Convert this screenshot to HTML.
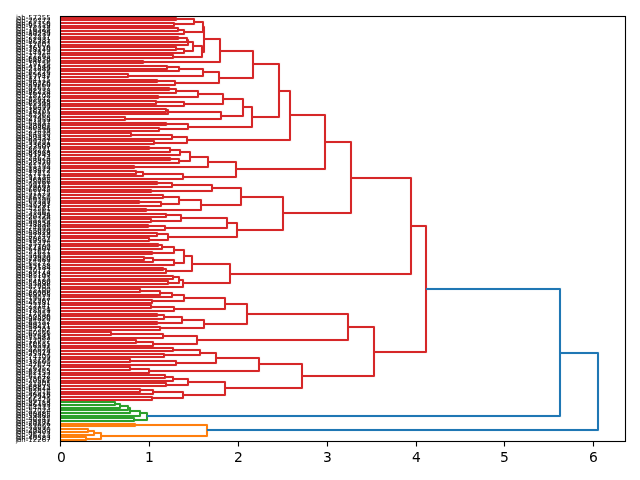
<!DOCTYPE html>
<html lang="en"><head><meta charset="utf-8"><title>Hierarchical clustering dendrogram</title>
<style>html,body{margin:0;padding:0;background:#fff}body{width:640px;height:480px;overflow:hidden}svg{display:block}text{font-family:"DejaVu Sans","Liberation Sans",sans-serif;fill:#000}.yl text{font-size:6.944px;text-anchor:start;}.xl text{font-size:13.889px;text-anchor:middle;}.lk path{fill:none;stroke-width:2;stroke-linejoin:round;stroke-linecap:butt}.lk .bl path{stroke-width:4;stroke-opacity:0.045}.fr path{fill:none;stroke:#000;stroke-width:1}.fr .bl path{stroke-width:3;stroke-opacity:0.055}</style></head><body>
<svg width="640" height="480" viewBox="0 0 640 480">
<rect width="640" height="480" fill="#fff"/>
<defs><clipPath id="ax"><rect x="60.472" y="16.330" width="564.528" height="424.947"/></clipPath></defs>
<g class="lk" clip-path="url(#ax)">
<g stroke="#ff7f0e">
<g class="bl">
<path d="M60 424H135V426H60"/>
<path d="M60 429H88V432H60"/>
<path d="M88 431H94V435H60"/>
<path d="M60 437H86V440H60"/>
<path d="M94 433H101V439H86"/>
<path d="M135 425H207V436H101"/>
</g>
<path d="M60 424H135V426H60"/>
<path d="M60 429H88V432H60"/>
<path d="M88 431H94V435H60"/>
<path d="M60 437H86V440H60"/>
<path d="M94 433H101V439H86"/>
<path d="M135 425H207V436H101"/>
</g>
<g stroke="#2ca02c">
<g class="bl">
<path d="M60 402H115V405H60"/>
<path d="M115 404H120V408H60"/>
<path d="M120 406H128V410H60"/>
<path d="M128 408H130V413H60"/>
<path d="M130 411H140V416H60"/>
<path d="M60 418H134V421H60"/>
<path d="M140 413H147V420H134"/>
</g>
<path d="M60 402H115V405H60"/>
<path d="M115 404H120V408H60"/>
<path d="M120 406H128V410H60"/>
<path d="M128 408H130V413H60"/>
<path d="M130 411H140V416H60"/>
<path d="M60 418H134V421H60"/>
<path d="M140 413H147V420H134"/>
</g>
<g stroke="#d62728">
<g class="bl">
<path d="M60 18H176V20H60"/>
<path d="M60 23H174V26H60"/>
<path d="M176 19H194V24H174"/>
<path d="M60 28H178V31H60"/>
<path d="M178 30H184V34H60"/>
<path d="M194 22H203V32H184"/>
<path d="M60 37H178V39H60"/>
<path d="M178 38H187V42H60"/>
<path d="M187 40H188V45H60"/>
<path d="M60 47H176V50H60"/>
<path d="M176 49H184V53H60"/>
<path d="M188 42H193V51H184"/>
<path d="M60 55H173V58H60"/>
<path d="M193 46H202V57H173"/>
<path d="M203 27H204V52H202"/>
<path d="M60 61H143V63H60"/>
<path d="M204 39H220V62H143"/>
<path d="M60 66H167V69H60"/>
<path d="M167 67H179V71H60"/>
<path d="M60 74H128V77H60"/>
<path d="M179 69H203V76H128"/>
<path d="M60 80H157V82H60"/>
<path d="M157 81H175V85H60"/>
<path d="M203 72H219V83H175"/>
<path d="M220 51H253V78H219"/>
<path d="M60 88H169V90H60"/>
<path d="M169 89H176V93H60"/>
<path d="M60 96H158V98H60"/>
<path d="M176 91H198V97H158"/>
<path d="M60 101H156V104H60"/>
<path d="M156 102H184V106H60"/>
<path d="M198 94H223V104H184"/>
<path d="M60 109H166V112H60"/>
<path d="M166 110H168V114H60"/>
<path d="M60 117H125V120H60"/>
<path d="M168 112H221V119H125"/>
<path d="M223 99H243V116H221"/>
<path d="M60 123H166V125H60"/>
<path d="M60 128H159V131H60"/>
<path d="M166 124H188V129H159"/>
<path d="M243 107H252V127H188"/>
<path d="M253 64H279V117H252"/>
<path d="M60 133H131V136H60"/>
<path d="M131 135H172V139H60"/>
<path d="M60 141H154V144H60"/>
<path d="M172 137H187V143H154"/>
<path d="M279 91H290V140H187"/>
<path d="M60 147H149V149H60"/>
<path d="M149 148H170V152H60"/>
<path d="M170 150H180V155H60"/>
<path d="M60 158H170V160H60"/>
<path d="M170 159H179V163H60"/>
<path d="M180 152H190V161H179"/>
<path d="M60 166H134V168H60"/>
<path d="M190 157H208V167H134"/>
<path d="M60 171H136V174H60"/>
<path d="M136 172H143V176H60"/>
<path d="M143 174H183V179H60"/>
<path d="M208 162H236V177H183"/>
<path d="M290 115H325V169H236"/>
<path d="M60 182H157V184H60"/>
<path d="M157 183H172V187H60"/>
<path d="M60 190H151V192H60"/>
<path d="M172 185H212V191H151"/>
<path d="M60 195H163V198H60"/>
<path d="M60 201H139V203H60"/>
<path d="M139 202H161V206H60"/>
<path d="M163 197H179V204H161"/>
<path d="M60 209H146V211H60"/>
<path d="M179 200H201V210H146"/>
<path d="M212 188H241V205H201"/>
<path d="M60 214H166V217H60"/>
<path d="M60 219H151V222H60"/>
<path d="M166 215H181V221H151"/>
<path d="M60 225H148V227H60"/>
<path d="M148 226H165V230H60"/>
<path d="M181 218H227V228H165"/>
<path d="M60 233H157V236H60"/>
<path d="M60 238H149V241H60"/>
<path d="M157 234H168V240H149"/>
<path d="M227 223H237V237H168"/>
<path d="M241 197H283V230H237"/>
<path d="M325 142H351V213H283"/>
<path d="M60 244H158V246H60"/>
<path d="M158 245H162V249H60"/>
<path d="M60 252H152V254H60"/>
<path d="M162 247H174V253H152"/>
<path d="M60 257H144V260H60"/>
<path d="M144 258H153V262H60"/>
<path d="M153 260H174V265H60"/>
<path d="M174 250H184V263H174"/>
<path d="M60 268H163V270H60"/>
<path d="M163 269H166V273H60"/>
<path d="M184 256H192V271H166"/>
<path d="M60 276H173V279H60"/>
<path d="M60 281H168V284H60"/>
<path d="M173 277H179V283H168"/>
<path d="M179 280H183V287H60"/>
<path d="M192 264H230V283H183"/>
<path d="M351 178H411V274H230"/>
<path d="M60 289H140V292H60"/>
<path d="M140 291H160V295H60"/>
<path d="M160 293H172V297H60"/>
<path d="M60 300H152V303H60"/>
<path d="M172 295H184V301H152"/>
<path d="M60 305H151V308H60"/>
<path d="M151 307H174V311H60"/>
<path d="M184 298H225V309H174"/>
<path d="M60 314H157V316H60"/>
<path d="M157 315H164V319H60"/>
<path d="M60 322H157V324H60"/>
<path d="M164 317H182V323H157"/>
<path d="M60 327H160V330H60"/>
<path d="M182 320H204V328H160"/>
<path d="M225 304H247V324H204"/>
<path d="M60 332H111V335H60"/>
<path d="M111 334H163V338H60"/>
<path d="M60 340H136V343H60"/>
<path d="M136 342H153V346H60"/>
<path d="M163 336H197V344H153"/>
<path d="M247 314H348V340H197"/>
<path d="M60 348H173V351H60"/>
<path d="M60 354H164V357H60"/>
<path d="M173 350H200V355H164"/>
<path d="M60 359H130V362H60"/>
<path d="M130 361H176V365H60"/>
<path d="M200 353H216V363H176"/>
<path d="M60 367H130V370H60"/>
<path d="M130 369H149V373H60"/>
<path d="M216 358H259V371H149"/>
<path d="M60 375H165V378H60"/>
<path d="M165 377H173V381H60"/>
<path d="M60 383H166V386H60"/>
<path d="M173 379H188V385H166"/>
<path d="M60 389H140V392H60"/>
<path d="M140 390H153V394H60"/>
<path d="M60 397H152V400H60"/>
<path d="M153 392H183V398H152"/>
<path d="M188 382H225V395H183"/>
<path d="M259 364H302V388H225"/>
<path d="M348 327H374V376H302"/>
<path d="M411 226H426V352H374"/>
</g>
<path d="M60 18H176V20H60"/>
<path d="M60 23H174V26H60"/>
<path d="M176 19H194V24H174"/>
<path d="M60 28H178V31H60"/>
<path d="M178 30H184V34H60"/>
<path d="M194 22H203V32H184"/>
<path d="M60 37H178V39H60"/>
<path d="M178 38H187V42H60"/>
<path d="M187 40H188V45H60"/>
<path d="M60 47H176V50H60"/>
<path d="M176 49H184V53H60"/>
<path d="M188 42H193V51H184"/>
<path d="M60 55H173V58H60"/>
<path d="M193 46H202V57H173"/>
<path d="M203 27H204V52H202"/>
<path d="M60 61H143V63H60"/>
<path d="M204 39H220V62H143"/>
<path d="M60 66H167V69H60"/>
<path d="M167 67H179V71H60"/>
<path d="M60 74H128V77H60"/>
<path d="M179 69H203V76H128"/>
<path d="M60 80H157V82H60"/>
<path d="M157 81H175V85H60"/>
<path d="M203 72H219V83H175"/>
<path d="M220 51H253V78H219"/>
<path d="M60 88H169V90H60"/>
<path d="M169 89H176V93H60"/>
<path d="M60 96H158V98H60"/>
<path d="M176 91H198V97H158"/>
<path d="M60 101H156V104H60"/>
<path d="M156 102H184V106H60"/>
<path d="M198 94H223V104H184"/>
<path d="M60 109H166V112H60"/>
<path d="M166 110H168V114H60"/>
<path d="M60 117H125V120H60"/>
<path d="M168 112H221V119H125"/>
<path d="M223 99H243V116H221"/>
<path d="M60 123H166V125H60"/>
<path d="M60 128H159V131H60"/>
<path d="M166 124H188V129H159"/>
<path d="M243 107H252V127H188"/>
<path d="M253 64H279V117H252"/>
<path d="M60 133H131V136H60"/>
<path d="M131 135H172V139H60"/>
<path d="M60 141H154V144H60"/>
<path d="M172 137H187V143H154"/>
<path d="M279 91H290V140H187"/>
<path d="M60 147H149V149H60"/>
<path d="M149 148H170V152H60"/>
<path d="M170 150H180V155H60"/>
<path d="M60 158H170V160H60"/>
<path d="M170 159H179V163H60"/>
<path d="M180 152H190V161H179"/>
<path d="M60 166H134V168H60"/>
<path d="M190 157H208V167H134"/>
<path d="M60 171H136V174H60"/>
<path d="M136 172H143V176H60"/>
<path d="M143 174H183V179H60"/>
<path d="M208 162H236V177H183"/>
<path d="M290 115H325V169H236"/>
<path d="M60 182H157V184H60"/>
<path d="M157 183H172V187H60"/>
<path d="M60 190H151V192H60"/>
<path d="M172 185H212V191H151"/>
<path d="M60 195H163V198H60"/>
<path d="M60 201H139V203H60"/>
<path d="M139 202H161V206H60"/>
<path d="M163 197H179V204H161"/>
<path d="M60 209H146V211H60"/>
<path d="M179 200H201V210H146"/>
<path d="M212 188H241V205H201"/>
<path d="M60 214H166V217H60"/>
<path d="M60 219H151V222H60"/>
<path d="M166 215H181V221H151"/>
<path d="M60 225H148V227H60"/>
<path d="M148 226H165V230H60"/>
<path d="M181 218H227V228H165"/>
<path d="M60 233H157V236H60"/>
<path d="M60 238H149V241H60"/>
<path d="M157 234H168V240H149"/>
<path d="M227 223H237V237H168"/>
<path d="M241 197H283V230H237"/>
<path d="M325 142H351V213H283"/>
<path d="M60 244H158V246H60"/>
<path d="M158 245H162V249H60"/>
<path d="M60 252H152V254H60"/>
<path d="M162 247H174V253H152"/>
<path d="M60 257H144V260H60"/>
<path d="M144 258H153V262H60"/>
<path d="M153 260H174V265H60"/>
<path d="M174 250H184V263H174"/>
<path d="M60 268H163V270H60"/>
<path d="M163 269H166V273H60"/>
<path d="M184 256H192V271H166"/>
<path d="M60 276H173V279H60"/>
<path d="M60 281H168V284H60"/>
<path d="M173 277H179V283H168"/>
<path d="M179 280H183V287H60"/>
<path d="M192 264H230V283H183"/>
<path d="M351 178H411V274H230"/>
<path d="M60 289H140V292H60"/>
<path d="M140 291H160V295H60"/>
<path d="M160 293H172V297H60"/>
<path d="M60 300H152V303H60"/>
<path d="M172 295H184V301H152"/>
<path d="M60 305H151V308H60"/>
<path d="M151 307H174V311H60"/>
<path d="M184 298H225V309H174"/>
<path d="M60 314H157V316H60"/>
<path d="M157 315H164V319H60"/>
<path d="M60 322H157V324H60"/>
<path d="M164 317H182V323H157"/>
<path d="M60 327H160V330H60"/>
<path d="M182 320H204V328H160"/>
<path d="M225 304H247V324H204"/>
<path d="M60 332H111V335H60"/>
<path d="M111 334H163V338H60"/>
<path d="M60 340H136V343H60"/>
<path d="M136 342H153V346H60"/>
<path d="M163 336H197V344H153"/>
<path d="M247 314H348V340H197"/>
<path d="M60 348H173V351H60"/>
<path d="M60 354H164V357H60"/>
<path d="M173 350H200V355H164"/>
<path d="M60 359H130V362H60"/>
<path d="M130 361H176V365H60"/>
<path d="M200 353H216V363H176"/>
<path d="M60 367H130V370H60"/>
<path d="M130 369H149V373H60"/>
<path d="M216 358H259V371H149"/>
<path d="M60 375H165V378H60"/>
<path d="M165 377H173V381H60"/>
<path d="M60 383H166V386H60"/>
<path d="M173 379H188V385H166"/>
<path d="M60 389H140V392H60"/>
<path d="M140 390H153V394H60"/>
<path d="M60 397H152V400H60"/>
<path d="M153 392H183V398H152"/>
<path d="M188 382H225V395H183"/>
<path d="M259 364H302V388H225"/>
<path d="M348 327H374V376H302"/>
<path d="M411 226H426V352H374"/>
</g>
<g stroke="#1f77b4">
<g class="bl">
<path d="M426 289H560V416H147"/>
<path d="M560 353H598V430H207"/>
</g>
<path d="M426 289H560V416H147"/>
<path d="M560 353H598V430H207"/>
</g>
</g>
<g class="fr">
<g class="bl"><path d="M60.5 16V442"/><path d="M625.5 16V442"/><path d="M60 441.5H626"/><path d="M60 16.5H626"/><path d="M60.5 441.5V446.5"/><path d="M149.5 441.5V446.5"/><path d="M238.5 441.5V446.5"/><path d="M327.5 441.5V446.5"/><path d="M416.5 441.5V446.5"/><path d="M504.5 441.5V446.5"/><path d="M593.5 441.5V446.5"/></g>
<path d="M60.5 16V442"/><path d="M625.5 16V442"/><path d="M60 441.5H626"/><path d="M60 16.5H626"/><path d="M60.5 441.5V446.5"/><path d="M149.5 441.5V446.5"/><path d="M238.5 441.5V446.5"/><path d="M327.5 441.5V446.5"/><path d="M416.5 441.5V446.5"/><path d="M504.5 441.5V446.5"/><path d="M593.5 441.5V446.5"/>
</g>
<g class="xl">
<text x="61.5" y="462">0</text>
<text x="149.5" y="462">1</text>
<text x="238.5" y="462">2</text>
<text x="327.5" y="462">3</text>
<text x="416.5" y="462">4</text>
<text x="504.5" y="462">5</text>
<text x="593.5" y="462">6</text>
</g>
<g class="yl">
<text x="16.095 16.9 21.16 25.81 28.32 32.74 37.15 41.695 46.24" y="20.18">jah-57255</text>
<text x="16.095 16.9 21.16 25.81 28.32 32.74 37.15 41.695 46.24" y="22.86">jah-29772</text>
<text x="16.095 16.9 21.16 25.81 28.32 32.74 37.15 41.695 46.24" y="25.55">jah-61750</text>
<text x="16.095 16.9 21.16 25.81 28.32 32.74 37.15 41.695 46.24" y="28.24">jah-95319</text>
<text x="16.095 16.9 21.16 25.81 28.32 32.74 37.15 41.695 46.24" y="30.93">jah-16328</text>
<text x="16.095 16.9 21.16 25.81 28.32 32.74 37.15 41.695 46.24" y="33.62">jah-19494</text>
<text x="16.095 16.9 21.16 25.81 28.32 32.74 37.15 41.695 46.24" y="36.31">jah-80239</text>
<text x="16.095 16.9 21.16 25.81 28.32 32.74 37.15 41.695 46.24" y="39.00">jah-22337</text>
<text x="16.095 16.9 21.16 25.81 28.32 32.74 37.15 41.695 46.24" y="41.69">jah-57931</text>
<text x="16.095 16.9 21.16 25.81 28.32 32.74 37.15 41.695 46.24" y="44.38">jah-86387</text>
<text x="16.095 16.9 21.16 25.81 28.32 32.74 37.15 41.695 46.24" y="47.07">jah-17602</text>
<text x="16.095 16.9 21.16 25.81 28.32 32.74 37.15 41.695 46.24" y="49.76">jah-76510</text>
<text x="16.095 16.9 21.16 25.81 28.32 32.74 37.15 41.695 46.24" y="52.45">jah-38140</text>
<text x="16.095 16.9 21.16 25.81 28.32 32.74 37.15 41.695 46.24" y="55.14">jah-14914</text>
<text x="16.095 16.9 21.16 25.81 28.32 32.74 37.15 41.695 46.24" y="57.83">jah-21265</text>
<text x="16.095 16.9 21.16 25.81 28.32 32.74 37.15 41.695 46.24" y="60.52">jah-66838</text>
<text x="16.095 16.9 21.16 25.81 28.32 32.74 37.15 41.695 46.24" y="63.21">jah-64810</text>
<text x="16.095 16.9 21.16 25.81 28.32 32.74 37.15 41.695 46.24" y="65.90">jah-19156</text>
<text x="16.095 16.9 21.16 25.81 28.32 32.74 37.15 41.695 46.24" y="68.59">jah-41544</text>
<text x="16.095 16.9 21.16 25.81 28.32 32.74 37.15 41.695 46.24" y="71.28">jah-21889</text>
<text x="16.095 16.9 21.16 25.81 28.32 32.74 37.15 41.695 46.24" y="73.97">jah-82226</text>
<text x="16.095 16.9 21.16 25.81 28.32 32.74 37.15 41.695 46.24" y="76.66">jah-65642</text>
<text x="16.095 16.9 21.16 25.81 28.32 32.74 37.15 41.695 46.24" y="79.35">jah-17747</text>
<text x="16.095 16.9 21.16 25.81 28.32 32.74 37.15 41.695 46.24" y="82.03">jah-84115</text>
<text x="16.095 16.9 21.16 25.81 28.32 32.74 37.15 41.695 46.24" y="84.72">jah-26226</text>
<text x="16.095 16.9 21.16 25.81 28.32 32.74 37.15 41.695 46.24" y="87.41">jah-39260</text>
<text x="16.095 16.9 21.16 25.81 28.32 32.74 37.15 41.695 46.24" y="90.10">jah-92657</text>
<text x="16.095 16.9 21.16 25.81 28.32 32.74 37.15 41.695 46.24" y="92.79">jah-92238</text>
<text x="16.095 16.9 21.16 25.81 28.32 32.74 37.15 41.695 46.24" y="95.48">jah-86414</text>
<text x="16.095 16.9 21.16 25.81 28.32 32.74 37.15 41.695 46.24" y="98.17">jah-18108</text>
<text x="16.095 16.9 21.16 25.81 28.32 32.74 37.15 41.695 46.24" y="100.86">jah-85642</text>
<text x="16.095 16.9 21.16 25.81 28.32 32.74 37.15 41.695 46.24" y="103.55">jah-86748</text>
<text x="16.095 16.9 21.16 25.81 28.32 32.74 37.15 41.695 46.24" y="106.24">jah-61993</text>
<text x="16.095 16.9 21.16 25.81 28.32 32.74 37.15 41.695 46.24" y="108.93">jah-16499</text>
<text x="16.095 16.9 21.16 25.81 28.32 32.74 37.15 41.695 46.24" y="111.62">jah-38977</text>
<text x="16.095 16.9 21.16 25.81 28.32 32.74 37.15 41.695 46.24" y="114.31">jah-16105</text>
<text x="16.095 16.9 21.16 25.81 28.32 32.74 37.15 41.695 46.24" y="117.00">jah-82963</text>
<text x="16.095 16.9 21.16 25.81 28.32 32.74 37.15 41.695 46.24" y="119.69">jah-27455</text>
<text x="16.095 16.9 21.16 25.81 28.32 32.74 37.15 41.695 46.24" y="122.38">jah-47959</text>
<text x="16.095 16.9 21.16 25.81 28.32 32.74 37.15 41.695 46.24" y="125.07">jah-64937</text>
<text x="16.095 16.9 21.16 25.81 28.32 32.74 37.15 41.695 46.24" y="127.76">jah-28907</text>
<text x="16.095 16.9 21.16 25.81 28.32 32.74 37.15 41.695 46.24" y="130.45">jah-80868</text>
<text x="16.095 16.9 21.16 25.81 28.32 32.74 37.15 41.695 46.24" y="133.14">jah-25439</text>
<text x="16.095 16.9 21.16 25.81 28.32 32.74 37.15 41.695 46.24" y="135.83">jah-84830</text>
<text x="16.095 16.9 21.16 25.81 28.32 32.74 37.15 41.695 46.24" y="138.51">jah-50433</text>
<text x="16.095 16.9 21.16 25.81 28.32 32.74 37.15 41.695 46.24" y="141.20">jah-83434</text>
<text x="16.095 16.9 21.16 25.81 28.32 32.74 37.15 41.695 46.24" y="143.89">jah-99391</text>
<text x="16.095 16.9 21.16 25.81 28.32 32.74 37.15 41.695 46.24" y="146.58">jah-33688</text>
<text x="16.095 16.9 21.16 25.81 28.32 32.74 37.15 41.695 46.24" y="149.27">jah-23507</text>
<text x="16.095 16.9 21.16 25.81 28.32 32.74 37.15 41.695 46.24" y="151.96">jah-86231</text>
<text x="16.095 16.9 21.16 25.81 28.32 32.74 37.15 41.695 46.24" y="154.65">jah-84868</text>
<text x="16.095 16.9 21.16 25.81 28.32 32.74 37.15 41.695 46.24" y="157.34">jah-93743</text>
<text x="16.095 16.9 21.16 25.81 28.32 32.74 37.15 41.695 46.24" y="160.03">jah-34624</text>
<text x="16.095 16.9 21.16 25.81 28.32 32.74 37.15 41.695 46.24" y="162.72">jah-58810</text>
<text x="16.095 16.9 21.16 25.81 28.32 32.74 37.15 41.695 46.24" y="165.41">jah-22770</text>
<text x="16.095 16.9 21.16 25.81 28.32 32.74 37.15 41.695 46.24" y="168.10">jah-81793</text>
<text x="16.095 16.9 21.16 25.81 28.32 32.74 37.15 41.695 46.24" y="170.79">jah-18229</text>
<text x="16.095 16.9 21.16 25.81 28.32 32.74 37.15 41.695 46.24" y="173.48">jah-83972</text>
<text x="16.095 16.9 21.16 25.81 28.32 32.74 37.15 41.695 46.24" y="176.17">jah-17812</text>
<text x="16.095 16.9 21.16 25.81 28.32 32.74 37.15 41.695 46.24" y="178.86">jah-91134</text>
<text x="16.095 16.9 21.16 25.81 28.32 32.74 37.15 41.695 46.24" y="181.55">jah-36995</text>
<text x="16.095 16.9 21.16 25.81 28.32 32.74 37.15 41.695 46.24" y="184.24">jah-75066</text>
<text x="16.095 16.9 21.16 25.81 28.32 32.74 37.15 41.695 46.24" y="186.93">jah-99181</text>
<text x="16.095 16.9 21.16 25.81 28.32 32.74 37.15 41.695 46.24" y="189.62">jah-79693</text>
<text x="16.095 16.9 21.16 25.81 28.32 32.74 37.15 41.695 46.24" y="192.31">jah-66045</text>
<text x="16.095 16.9 21.16 25.81 28.32 32.74 37.15 41.695 46.24" y="195.00">jah-51175</text>
<text x="16.095 16.9 21.16 25.81 28.32 32.74 37.15 41.695 46.24" y="197.68">jah-71027</text>
<text x="16.095 16.9 21.16 25.81 28.32 32.74 37.15 41.695 46.24" y="200.37">jah-86750</text>
<text x="16.095 16.9 21.16 25.81 28.32 32.74 37.15 41.695 46.24" y="203.06">jah-69399</text>
<text x="16.095 16.9 21.16 25.81 28.32 32.74 37.15 41.695 46.24" y="205.75">jah-57393</text>
<text x="16.095 16.9 21.16 25.81 28.32 32.74 37.15 41.695 46.24" y="208.44">jah-49291</text>
<text x="16.095 16.9 21.16 25.81 28.32 32.74 37.15 41.695 46.24" y="211.13">jah-42561</text>
<text x="16.095 16.9 21.16 25.81 28.32 32.74 37.15 41.695 46.24" y="213.82">jah-33562</text>
<text x="16.095 16.9 21.16 25.81 28.32 32.74 37.15 41.695 46.24" y="216.51">jah-41994</text>
<text x="16.095 16.9 21.16 25.81 28.32 32.74 37.15 41.695 46.24" y="219.20">jah-20728</text>
<text x="16.095 16.9 21.16 25.81 28.32 32.74 37.15 41.695 46.24" y="221.89">jah-85290</text>
<text x="16.095 16.9 21.16 25.81 28.32 32.74 37.15 41.695 46.24" y="224.58">jah-49354</text>
<text x="16.095 16.9 21.16 25.81 28.32 32.74 37.15 41.695 46.24" y="227.27">jah-78838</text>
<text x="16.095 16.9 21.16 25.81 28.32 32.74 37.15 41.695 46.24" y="229.96">jah-74895</text>
<text x="16.095 16.9 21.16 25.81 28.32 32.74 37.15 41.695 46.24" y="232.65">jah-55020</text>
<text x="16.095 16.9 21.16 25.81 28.32 32.74 37.15 41.695 46.24" y="235.34">jah-68829</text>
<text x="16.095 16.9 21.16 25.81 28.32 32.74 37.15 41.695 46.24" y="238.03">jah-47740</text>
<text x="16.095 16.9 21.16 25.81 28.32 32.74 37.15 41.695 46.24" y="240.72">jah-89817</text>
<text x="16.095 16.9 21.16 25.81 28.32 32.74 37.15 41.695 46.24" y="243.41">jah-19594</text>
<text x="16.095 16.9 21.16 25.81 28.32 32.74 37.15 41.695 46.24" y="246.10">jah-25475</text>
<text x="16.095 16.9 21.16 25.81 28.32 32.74 37.15 41.695 46.24" y="248.79">jah-77100</text>
<text x="16.095 16.9 21.16 25.81 28.32 32.74 37.15 41.695 46.24" y="251.48">jah-64804</text>
<text x="16.095 16.9 21.16 25.81 28.32 32.74 37.15 41.695 46.24" y="254.17">jah-31621</text>
<text x="16.095 16.9 21.16 25.81 28.32 32.74 37.15 41.695 46.24" y="256.85">jah-54833</text>
<text x="16.095 16.9 21.16 25.81 28.32 32.74 37.15 41.695 46.24" y="259.54">jah-29920</text>
<text x="16.095 16.9 21.16 25.81 28.32 32.74 37.15 41.695 46.24" y="262.23">jah-74089</text>
<text x="16.095 16.9 21.16 25.81 28.32 32.74 37.15 41.695 46.24" y="264.92">jah-65272</text>
<text x="16.095 16.9 21.16 25.81 28.32 32.74 37.15 41.695 46.24" y="267.61">jah-15138</text>
<text x="16.095 16.9 21.16 25.81 28.32 32.74 37.15 41.695 46.24" y="270.30">jah-97584</text>
<text x="16.095 16.9 21.16 25.81 28.32 32.74 37.15 41.695 46.24" y="272.99">jah-20173</text>
<text x="16.095 16.9 21.16 25.81 28.32 32.74 37.15 41.695 46.24" y="275.68">jah-83148</text>
<text x="16.095 16.9 21.16 25.81 28.32 32.74 37.15 41.695 46.24" y="278.37">jah-85107</text>
<text x="16.095 16.9 21.16 25.81 28.32 32.74 37.15 41.695 46.24" y="281.06">jah-51123</text>
<text x="16.095 16.9 21.16 25.81 28.32 32.74 37.15 41.695 46.24" y="283.75">jah-54580</text>
<text x="16.095 16.9 21.16 25.81 28.32 32.74 37.15 41.695 46.24" y="286.44">jah-55898</text>
<text x="16.095 16.9 21.16 25.81 28.32 32.74 37.15 41.695 46.24" y="289.13">jah-87905</text>
<text x="16.095 16.9 21.16 25.81 28.32 32.74 37.15 41.695 46.24" y="291.82">jah-75100</text>
<text x="16.095 16.9 21.16 25.81 28.32 32.74 37.15 41.695 46.24" y="294.51">jah-86008</text>
<text x="16.095 16.9 21.16 25.81 28.32 32.74 37.15 41.695 46.24" y="297.20">jah-69795</text>
<text x="16.095 16.9 21.16 25.81 28.32 32.74 37.15 41.695 46.24" y="299.89">jah-19012</text>
<text x="16.095 16.9 21.16 25.81 28.32 32.74 37.15 41.695 46.24" y="302.58">jah-22267</text>
<text x="16.095 16.9 21.16 25.81 28.32 32.74 37.15 41.695 46.24" y="305.27">jah-45381</text>
<text x="16.095 16.9 21.16 25.81 28.32 32.74 37.15 41.695 46.24" y="307.96">jah-72141</text>
<text x="16.095 16.9 21.16 25.81 28.32 32.74 37.15 41.695 46.24" y="310.65">jah-97051</text>
<text x="16.095 16.9 21.16 25.81 28.32 32.74 37.15 41.695 46.24" y="313.34">jah-18519</text>
<text x="16.095 16.9 21.16 25.81 28.32 32.74 37.15 41.695 46.24" y="316.02">jah-17952</text>
<text x="16.095 16.9 21.16 25.81 28.32 32.74 37.15 41.695 46.24" y="318.71">jah-50580</text>
<text x="16.095 16.9 21.16 25.81 28.32 32.74 37.15 41.695 46.24" y="321.40">jah-94820</text>
<text x="16.095 16.9 21.16 25.81 28.32 32.74 37.15 41.695 46.24" y="324.09">jah-85752</text>
<text x="16.095 16.9 21.16 25.81 28.32 32.74 37.15 41.695 46.24" y="326.78">jah-99291</text>
<text x="16.095 16.9 21.16 25.81 28.32 32.74 37.15 41.695 46.24" y="329.47">jah-68411</text>
<text x="16.095 16.9 21.16 25.81 28.32 32.74 37.15 41.695 46.24" y="332.16">jah-47302</text>
<text x="16.095 16.9 21.16 25.81 28.32 32.74 37.15 41.695 46.24" y="334.85">jah-60566</text>
<text x="16.095 16.9 21.16 25.81 28.32 32.74 37.15 41.695 46.24" y="337.54">jah-97641</text>
<text x="16.095 16.9 21.16 25.81 28.32 32.74 37.15 41.695 46.24" y="340.23">jah-55482</text>
<text x="16.095 16.9 21.16 25.81 28.32 32.74 37.15 41.695 46.24" y="342.92">jah-12957</text>
<text x="16.095 16.9 21.16 25.81 28.32 32.74 37.15 41.695 46.24" y="345.61">jah-70515</text>
<text x="16.095 16.9 21.16 25.81 28.32 32.74 37.15 41.695 46.24" y="348.30">jah-56591</text>
<text x="16.095 16.9 21.16 25.81 28.32 32.74 37.15 41.695 46.24" y="350.99">jah-32026</text>
<text x="16.095 16.9 21.16 25.81 28.32 32.74 37.15 41.695 46.24" y="353.68">jah-90074</text>
<text x="16.095 16.9 21.16 25.81 28.32 32.74 37.15 41.695 46.24" y="356.37">jah-25347</text>
<text x="16.095 16.9 21.16 25.81 28.32 32.74 37.15 41.695 46.24" y="359.06">jah-74709</text>
<text x="16.095 16.9 21.16 25.81 28.32 32.74 37.15 41.695 46.24" y="361.75">jah-17727</text>
<text x="16.095 16.9 21.16 25.81 28.32 32.74 37.15 41.695 46.24" y="364.44">jah-38600</text>
<text x="16.095 16.9 21.16 25.81 28.32 32.74 37.15 41.695 46.24" y="367.13">jah-47674</text>
<text x="16.095 16.9 21.16 25.81 28.32 32.74 37.15 41.695 46.24" y="369.82">jah-26952</text>
<text x="16.095 16.9 21.16 25.81 28.32 32.74 37.15 41.695 46.24" y="372.50">jah-42455</text>
<text x="16.095 16.9 21.16 25.81 28.32 32.74 37.15 41.695 46.24" y="375.19">jah-62153</text>
<text x="16.095 16.9 21.16 25.81 28.32 32.74 37.15 41.695 46.24" y="377.88">jah-61242</text>
<text x="16.095 16.9 21.16 25.81 28.32 32.74 37.15 41.695 46.24" y="380.57">jah-75078</text>
<text x="16.095 16.9 21.16 25.81 28.32 32.74 37.15 41.695 46.24" y="383.26">jah-20561</text>
<text x="16.095 16.9 21.16 25.81 28.32 32.74 37.15 41.695 46.24" y="385.95">jah-31805</text>
<text x="16.095 16.9 21.16 25.81 28.32 32.74 37.15 41.695 46.24" y="388.64">jah-68875</text>
<text x="16.095 16.9 21.16 25.81 28.32 32.74 37.15 41.695 46.24" y="391.33">jah-62644</text>
<text x="16.095 16.9 21.16 25.81 28.32 32.74 37.15 41.695 46.24" y="394.02">jah-82016</text>
<text x="16.095 16.9 21.16 25.81 28.32 32.74 37.15 41.695 46.24" y="396.71">jah-46416</text>
<text x="16.095 16.9 21.16 25.81 28.32 32.74 37.15 41.695 46.24" y="399.40">jah-27947</text>
<text x="16.095 16.9 21.16 25.81 28.32 32.74 37.15 41.695 46.24" y="402.09">jah-66429</text>
<text x="16.095 16.9 21.16 25.81 28.32 32.74 37.15 41.695 46.24" y="404.78">jah-82118</text>
<text x="16.095 16.9 21.16 25.81 28.32 32.74 37.15 41.695 46.24" y="407.47">jah-46493</text>
<text x="16.095 16.9 21.16 25.81 28.32 32.74 37.15 41.695 46.24" y="410.16">jah-64433</text>
<text x="16.095 16.9 21.16 25.81 28.32 32.74 37.15 41.695 46.24" y="412.85">jah-57024</text>
<text x="16.095 16.9 21.16 25.81 28.32 32.74 37.15 41.695 46.24" y="415.54">jah-99485</text>
<text x="16.095 16.9 21.16 25.81 28.32 32.74 37.15 41.695 46.24" y="418.23">jah-59865</text>
<text x="16.095 16.9 21.16 25.81 28.32 32.74 37.15 41.695 46.24" y="420.92">jah-40245</text>
<text x="16.095 16.9 21.16 25.81 28.32 32.74 37.15 41.695 46.24" y="423.61">jah-29781</text>
<text x="16.095 16.9 21.16 25.81 28.32 32.74 37.15 41.695 46.24" y="426.30">jah-20876</text>
<text x="16.095 16.9 21.16 25.81 28.32 32.74 37.15 41.695 46.24" y="428.99">jah-33097</text>
<text x="16.095 16.9 21.16 25.81 28.32 32.74 37.15 41.695 46.24" y="431.67">jah-29830</text>
<text x="16.095 16.9 21.16 25.81 28.32 32.74 37.15 41.695 46.24" y="434.36">jah-40403</text>
<text x="16.095 16.9 21.16 25.81 28.32 32.74 37.15 41.695 46.24" y="437.05">jah-96313</text>
<text x="16.095 16.9 21.16 25.81 28.32 32.74 37.15 41.695 46.24" y="439.74">jah-40583</text>
<text x="16.095 16.9 21.16 25.81 28.32 32.74 37.15 41.695 46.24" y="442.43">jah-12267</text>
</g>
</svg></body></html>
